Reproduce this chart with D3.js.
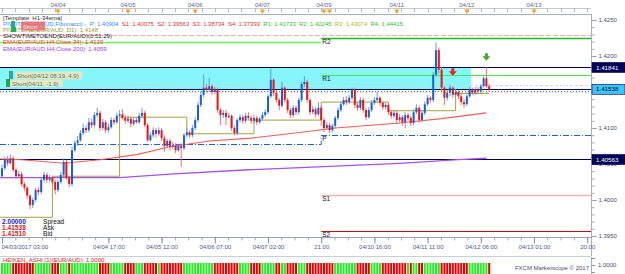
<!DOCTYPE html>
<html>
<head>
<meta charset="utf-8">
<script src="https://cdn.jsdelivr.net/npm/d3@7"></script>
<style>
body { margin: 0; background: #fff; }
svg { display: block; font-family: "Liberation Sans", Arial, sans-serif; }
</style>
</head>
<body>
<div id="chart"></div>
<script>
// EUR/AUD H1 candles, one per hour (open = previous close)
const firstOpen = 1.4033
const closes = [
  1.4044, 1.4056, 1.4051, 1.4058, 1.4042, 1.4033, 1.4036, 1.4022, 1.4017, 1.4006,
  1.3993, 1.4000, 1.4014, 1.4011, 1.4028, 1.4035, 1.4028, 1.4031, 1.4025, 1.4014,
  1.4025, 1.4035, 1.4053, 1.4031, 1.4022, 1.4069, 1.4079, 1.4083, 1.4093, 1.4100,
  1.4097, 1.4108, 1.4104, 1.4118, 1.4121, 1.4100, 1.4108, 1.4097, 1.4101, 1.4111,
  1.4108, 1.4117, 1.4119, 1.4114, 1.4110, 1.4113, 1.4106, 1.4111, 1.4108, 1.4117,
  1.4121, 1.4104, 1.4083, 1.4090, 1.4097, 1.4092, 1.4097, 1.4086, 1.4075, 1.4082,
  1.4074, 1.4076, 1.4069, 1.4075, 1.4072, 1.4090, 1.4094, 1.4090, 1.4100, 1.4111,
  1.4132, 1.4146, 1.4156, 1.4153, 1.4158, 1.4150, 1.4153, 1.4125, 1.4118, 1.4121,
  1.4115, 1.4117, 1.4100, 1.4093, 1.4111, 1.4115, 1.4110, 1.4117, 1.4114, 1.4110,
  1.4114, 1.4108, 1.4113, 1.4118, 1.4122, 1.4144, 1.4167, 1.4149, 1.4139, 1.4131,
  1.4156, 1.4139, 1.4125, 1.4118, 1.4128, 1.4122, 1.4139, 1.4161, 1.4164, 1.4139,
  1.4122, 1.4126, 1.4119, 1.4128, 1.4111, 1.4100, 1.4104, 1.4097, 1.4103, 1.4114,
  1.4125, 1.4133, 1.4139, 1.4136, 1.4142, 1.4153, 1.4132, 1.4128, 1.4139, 1.4125,
  1.4115, 1.4125, 1.4135, 1.4139, 1.4142, 1.4135, 1.4129, 1.4132, 1.4122, 1.4117,
  1.4121, 1.4111, 1.4115, 1.4108, 1.4118, 1.4114, 1.4107, 1.4122, 1.4128, 1.4111,
  1.4121, 1.4133, 1.4142, 1.4139, 1.4174, 1.4208, 1.4181, 1.4156, 1.4142, 1.4149,
  1.4156, 1.4146, 1.4150, 1.4144, 1.4136, 1.4133, 1.4144, 1.4153, 1.4149, 1.4154,
  1.4151, 1.4158, 1.4169, 1.4158, 1.4154
]
const highs = [
  1.4049, 1.4060, 1.4061, 1.4063, 1.4061, 1.4044, 1.4040, 1.4039, 1.4025, 1.4019,
  1.4008, 1.4003, 1.4017, 1.4018, 1.4031, 1.4039, 1.4038, 1.4035, 1.4033, 1.4028,
  1.4028, 1.4039, 1.4058, 1.4056, 1.4033, 1.4074, 1.4083, 1.4089, 1.4097, 1.4106,
  1.4104, 1.4114, 1.4113, 1.4122, 1.4128, 1.4124, 1.4113, 1.4111, 1.4106, 1.4115,
  1.4114, 1.4121, 1.4125, 1.4126, 1.4118, 1.4117, 1.4115, 1.4114, 1.4115, 1.4121,
  1.4128, 1.4124, 1.4107, 1.4094, 1.4101, 1.4100, 1.4101, 1.4100, 1.4090, 1.4085,
  1.4085, 1.4081, 1.4079, 1.4078, 1.4079, 1.4093, 1.4100, 1.4097, 1.4104, 1.4115,
  1.4136, 1.4151, 1.4174, 1.4161, 1.4169, 1.4161, 1.4157, 1.4156, 1.4128, 1.4125,
  1.4125, 1.4121, 1.4119, 1.4103, 1.4114, 1.4119, 1.4118, 1.4121, 1.4122, 1.4117,
  1.4118, 1.4117, 1.4115, 1.4122, 1.4126, 1.4147, 1.4183, 1.4169, 1.4153, 1.4142,
  1.4164, 1.4158, 1.4142, 1.4128, 1.4132, 1.4131, 1.4142, 1.4164, 1.4172, 1.4167,
  1.4142, 1.4131, 1.4129, 1.4136, 1.4131, 1.4114, 1.4108, 1.4107, 1.4106, 1.4117,
  1.4128, 1.4137, 1.4143, 1.4144, 1.4146, 1.4156, 1.4156, 1.4136, 1.4143, 1.4142,
  1.4128, 1.4129, 1.4139, 1.4143, 1.4150, 1.4144, 1.4137, 1.4135, 1.4135, 1.4125,
  1.4125, 1.4124, 1.4119, 1.4118, 1.4122, 1.4121, 1.4117, 1.4126, 1.4133, 1.4131,
  1.4125, 1.4137, 1.4146, 1.4144, 1.4178, 1.4219, 1.4212, 1.4185, 1.4158, 1.4153,
  1.4160, 1.4158, 1.4154, 1.4153, 1.4147, 1.4140, 1.4147, 1.4157, 1.4156, 1.4157,
  1.4157, 1.4161, 1.4172, 1.4185, 1.4161
]
const lows = [
  1.4031, 1.4042, 1.4047, 1.4049, 1.4039, 1.4029, 1.4031, 1.4019, 1.4012, 1.4001,
  1.3987, 1.3989, 1.3997, 1.4007, 1.4008, 1.4025, 1.4024, 1.4025, 1.4021, 1.4008,
  1.4011, 1.4022, 1.4032, 1.4028, 1.4018, 1.4019, 1.4067, 1.4075, 1.4081, 1.4090,
  1.4093, 1.4094, 1.4100, 1.4101, 1.4115, 1.4096, 1.4097, 1.4093, 1.4094, 1.4099,
  1.4104, 1.4106, 1.4114, 1.4111, 1.4106, 1.4107, 1.4101, 1.4103, 1.4106, 1.4106,
  1.4114, 1.4101, 1.4081, 1.4081, 1.4087, 1.4087, 1.4089, 1.4082, 1.4067, 1.4072,
  1.4069, 1.4071, 1.4065, 1.4067, 1.4046, 1.4069, 1.4087, 1.4086, 1.4087, 1.4097,
  1.4108, 1.4129, 1.4143, 1.4149, 1.4150, 1.4146, 1.4147, 1.4121, 1.4104, 1.4114,
  1.4104, 1.4113, 1.4096, 1.4090, 1.4090, 1.4108, 1.4106, 1.4107, 1.4110, 1.4106,
  1.4107, 1.4104, 1.4106, 1.4110, 1.4115, 1.4119, 1.4142, 1.4144, 1.4135, 1.4125,
  1.4128, 1.4135, 1.4121, 1.4114, 1.4115, 1.4118, 1.4119, 1.4136, 1.4157, 1.4135,
  1.4118, 1.4119, 1.4115, 1.4117, 1.4103, 1.4094, 1.4097, 1.4093, 1.4094, 1.4100,
  1.4111, 1.4122, 1.4131, 1.4132, 1.4133, 1.4139, 1.4128, 1.4124, 1.4125, 1.4121,
  1.4111, 1.4113, 1.4122, 1.4132, 1.4136, 1.4131, 1.4125, 1.4126, 1.4118, 1.4113,
  1.4114, 1.4107, 1.4108, 1.4103, 1.4100, 1.4110, 1.4103, 1.4104, 1.4119, 1.4107,
  1.4108, 1.4118, 1.4131, 1.4135, 1.4136, 1.4171, 1.4176, 1.4151, 1.4132, 1.4138,
  1.4144, 1.4142, 1.4143, 1.4140, 1.4132, 1.4128, 1.4131, 1.4142, 1.4146, 1.4146,
  1.4147, 1.4149, 1.4156, 1.4156, 1.4150
]

// EMA lines, read at a few candle positions
const ema34Idx = [-1, 7, 22, 35, 48, 60, 74, 89, 107, 119, 142, 157, 173]
const ema34 = [1.4057, 1.4056, 1.4051, 1.4056, 1.4063, 1.4074, 1.4082, 1.4086, 1.4094, 1.4100, 1.4107, 1.4113, 1.4121]
const ema200Idx = [-1, 42, 60, 88, 119, 142, 163, 173]
const ema200 = [1.4031, 1.4031, 1.4036, 1.4042, 1.4047, 1.4051, 1.4056, 1.4058]

// daily pivot line (step), start index of each day
const dayStart = [-1, 18, 42, 66, 90, 114, 138, 162]
const dayPivot = [1.3976, 1.4033, 1.4115, 1.4092, 1.4111, 1.4136, 1.4124, 1.4148]

// fibonacci pivots of the week, and of the week before
const pivotNames = ['R2', 'R1', 'P', 'S1', 'S2']
const pivotLevels = [1.42245, 1.41733, 1.40904, 1.40075, 1.39563]
const prevR2 = 1.42194
const prevP = 1.40778
const weekStart = 114

// other price levels
const orderHigh = 1.41841
const orderLow = 1.40563
const askPrice = 1.41538
const bidPrice = 1.41510
const stopLevel = 1.42292
const zoneEnd = 167.5

// axes
const priceTicks = [1.3950, 1.4000, 1.4050, 1.4100, 1.4150, 1.4200, 1.4250]
const timeTickIdx = [0, 38, 57, 76, 95, 114, 133, 152, 171, 190, 209]
const timeTickLabels = ['04/03/2017 03:00', '04/04 17:00', '04/05 12:00', '04/06 07:00', '04/07 02:00',
  '21:00', '04/10 16:00', '04/11 11:00', '04/12 06:00', '04/13 01:00', '20:00']
const eventIdx = [20, 45, 69, 93, 115, 141, 166, 190]
const eventLabels = ['04/04', '04/05', '04/06', '04/07', '04/09', '04/11', '04/12', '04/13']
const eventMarkers = [20, 45, 69, 93, 115, 117, 141, 166, 190]

const W = 625, H = 274
const plotRight = 591, plotTop = 15, plotBottom = 237.5

var candles = closes.map((c, i) => ({
  i: i,
  open: i ? closes[i - 1] : firstOpen,
  close: c,
  high: highs[i],
  low: lows[i]
}))

var svg = d3.select('#chart')
  .append('svg')
  .attr('width', W)
  .attr('height', H)

var x = d3.scaleLinear().domain([0, 209]).range([2, 587.2])
var y = d3.scaleLinear().domain([1.395, 1.425]).range([236, 20])

svg.append('clipPath').attr('id', 'plot')
  .append('rect').attr('x', 0).attr('y', plotTop).attr('width', plotRight).attr('height', plotBottom - plotTop)

var plot = svg.append('g').attr('clip-path', 'url(#plot)')

// short order zone
plot.append('rect')
  .attr('x', 0).attr('y', y(orderHigh))
  .attr('width', x(zoneEnd)).attr('height', y(askPrice) - y(orderHigh))
  .attr('fill', '#84f6fc')

function hline(p, x0, x1, color, width, dash) {
  plot.append('line')
    .attr('x1', x0).attr('x2', x1)
    .attr('y1', Math.round(y(p)) + 0.5).attr('y2', Math.round(y(p)) + 0.5)
    .attr('stroke', color).attr('stroke-width', width)
    .attr('stroke-dasharray', dash || null)
}

hline(stopLevel, 0, plotRight, '#ffa8a8', 1, '5,2')
hline(1.4160, 0, plotRight, '#cfe0c8', 1, '3,2')
hline(1.4150, 0, plotRight, '#d8e4d0', 1, '3,2')

// pivots
hline(prevR2, 0, x(weekStart), '#66ff55', 1.5)
hline(pivotLevels[0], x(weekStart), plotRight, '#19c019', 1.5)
hline(pivotLevels[1], x(weekStart), plotRight, '#4ee44e', 1.2)
hline(pivotLevels[3], x(weekStart), plotRight, '#ffb4b4', 1.6)
hline(pivotLevels[4], x(weekStart), plotRight, '#c81010', 1.2)

plot.append('path')
  .attr('d', `M0,${Math.round(y(prevP)) + 0.5}H${x(weekStart)}V${Math.round(y(pivotLevels[2])) + 0.5}H${plotRight}`)
  .attr('fill', 'none').attr('stroke', '#1a64e0').attr('stroke-width', 1)
  .attr('stroke-dasharray', '6,2,1,2')

hline(orderHigh, 0, plotRight, '#000050', 1.2)
hline(orderLow, 0, plotRight, '#000050', 1.2)
hline(askPrice, 0, plotRight, '#000060', 1.2)
hline(bidPrice, 0, plotRight, '#6070a0', 1, '1,2')

// daily pivot line
var stepPts = []
dayStart.forEach((s, k) => {
  var end = k < dayStart.length - 1 ? dayStart[k + 1] : 174
  stepPts.push([x(s), y(dayPivot[k])], [x(end), y(dayPivot[k])])
})
plot.append('path')
  .attr('d', d3.line()(stepPts))
  .attr('fill', 'none').attr('stroke', '#a8a040').attr('stroke-width', 1)

// EMAs
var line = d3.line().x(d => x(d[0])).y(d => y(d[1]))
plot.append('path')
  .attr('d', line(ema200Idx.map((d, k) => [d, ema200[k]])))
  .attr('fill', 'none').attr('stroke', '#a452f0').attr('stroke-width', 1.3)
plot.append('path')
  .attr('d', line(ema34Idx.map((d, k) => [d, ema34[k]])))
  .attr('fill', 'none').attr('stroke', '#ff5a5a').attr('stroke-width', 1.1)

// candles
var cg = plot.selectAll('.candle')
  .data(candles)
  .enter()
  .append('g')
  .attr('class', 'candle')

cg.append('line')
  .attr('x1', d => x(d.i)).attr('x2', d => x(d.i))
  .attr('y1', d => y(d.high)).attr('y2', d => y(d.low))
  .attr('stroke', d => d.close >= d.open ? '#5a8ee0' : '#f06060')
  .attr('stroke-width', 0.9)

cg.append('rect')
  .attr('x', d => x(d.i) - 1)
  .attr('width', 2)
  .attr('y', d => y(Math.max(d.open, d.close)))
  .attr('height', d => Math.max(1, Math.abs(y(d.open) - y(d.close))))
  .attr('fill', d => d.close >= d.open ? '#1c5fd0' : '#e81616')

// signal arrows
function arrow(i, p, color) {
  var ax = x(i), ay = y(p)
  plot.append('path')
    .attr('d', `M${ax - 1.5},${ay - 5}h3v3h2.5l-4,4.5l-4,-4.5h2.5z`)
    .attr('fill', color)
}
arrow(161, 1.4176, '#e02828')
arrow(173, 1.4197, '#4aa82a')

// pivot labels
pivotNames.forEach((n, k) => {
  svg.append('text')
    .attr('x', x(weekStart) + 1).attr('y', y(pivotLevels[k]) + 6)
    .attr('font-size', 6.5).attr('fill', '#111').text(n)
})

// order tags
svg.append('rect').attr('x', 9).attr('y', 71).attr('width', 4).attr('height', 8).attr('fill', '#32a89a')
svg.append('rect').attr('x', 15).attr('y', 71.5).attr('width', 67).attr('height', 8).attr('fill', '#dfe8c2')
svg.append('text').attr('x', 17).attr('y', 78).attr('font-size', 6).attr('fill', '#707070').text('Short(04/12 08:19, 4.9)')
svg.append('rect').attr('x', 6).attr('y', 79).attr('width', 4).attr('height', 8).attr('fill', '#1fa850')
svg.append('rect').attr('x', 10).attr('y', 80).attr('width', 53).attr('height', 7).attr('fill', '#e2ebc6')
svg.append('text').attr('x', 12).attr('y', 86).attr('font-size', 6).attr('fill', '#707070').text('Short(04/11, -1.9)')

// frame
svg.append('line').attr('x1', 0).attr('x2', plotRight).attr('y1', plotTop - 0.5).attr('y2', plotTop - 0.5).attr('stroke', '#a8b0c4')
svg.append('line').attr('x1', plotRight + 0.5).attr('x2', plotRight + 0.5).attr('y1', plotTop - 1).attr('y2', 256).attr('stroke', '#a8b0c4')

// top ruler with event dates
var minorIdx = d3.range(0, 210, 19 / 4)
svg.append('line').attr('x1', 0).attr('x2', plotRight).attr('y1', 8.5).attr('y2', 8.5).attr('stroke', '#c4c8d4')
svg.selectAll('.rtick').data(minorIdx).enter().append('line')
  .attr('x1', d => Math.round(x(d)) + 0.5).attr('x2', d => Math.round(x(d)) + 0.5)
  .attr('y1', 8.5).attr('y2', 12).attr('stroke', '#b0b4c4')
svg.selectAll('.ev').data(eventIdx).enter().append('text')
  .attr('x', d => x(d)).attr('y', 6.5)
  .attr('text-anchor', 'middle').attr('font-size', 6).attr('fill', '#5a6890')
  .text((d, k) => eventLabels[k])
svg.selectAll('.mk').data(eventMarkers).enter().append('path')
  .attr('d', d => `M${x(d) - 2.5},9.5h5l-2.5,4.5z`)
  .attr('fill', '#f5a020')

// price axis
var yAxis = svg.append('g').attr('transform', `translate(${plotRight + 0.5},0)`)
  .call(d3.axisRight(y).tickValues(priceTicks).tickFormat(d3.format('.4f')).tickSize(5).tickPadding(2))
var yMinor = svg.append('g').attr('transform', `translate(${plotRight + 0.5},0)`)
  .call(d3.axisRight(y).tickValues(d3.range(1.395, 1.4251, 0.001)).tickFormat('').tickSize(3))
svg.selectAll('.domain').remove()
yAxis.selectAll('line').attr('stroke', '#8890a8')
yMinor.selectAll('line').attr('stroke', '#a0a8bc')
yAxis.selectAll('text').attr('font-size', 6).attr('fill', '#4a4c70').attr('font-family', 'Liberation Sans')

// price tags on the axis
function priceTag(p, bg, fg) {
  var ty = y(p)
  svg.append('rect').attr('x', plotRight + 1).attr('y', ty - 5).attr('width', 33).attr('height', 10)
    .attr('fill', bg).attr('stroke', '#000050').attr('stroke-width', 0.6)
  svg.append('text').attr('x', plotRight + 5).attr('y', ty + 2.2).attr('font-size', 6.2)
    .attr('fill', fg).text(d3.format('.5f')(p))
}
priceTag(orderHigh, '#000058', '#ffffff')
priceTag(askPrice, '#3cc4f4', '#000040')
priceTag(orderLow, '#000058', '#ffffff')

// time axis
svg.append('line').attr('x1', 0).attr('x2', plotRight).attr('y1', plotBottom).attr('y2', plotBottom).attr('stroke', '#98a0b8')
var xMinor = svg.append('g').attr('transform', `translate(0,${plotBottom})`)
  .call(d3.axisBottom(x).tickValues(minorIdx).tickFormat('').tickSize(3))
var xAxis = svg.append('g').attr('transform', `translate(0,${plotBottom})`)
  .call(d3.axisBottom(x).tickValues(timeTickIdx).tickFormat((d, k) => timeTickLabels[k]).tickSize(6).tickPadding(1))
xMinor.select('.domain').remove()
xAxis.select('.domain').remove()
xMinor.selectAll('line').attr('stroke', '#a0a8bc')
xAxis.selectAll('line').attr('stroke', '#8890a8')
xAxis.selectAll('text').attr('font-size', 6).attr('fill', '#4a5890').attr('font-family', 'Liberation Sans')
xAxis.select('.tick text').attr('text-anchor', 'start').attr('dx', -1)

// indicator legend
var legend = [
  ['[Template: H1-34ema]', '#303030'],
  null,
  ['PIVOTLINE(EUR/AUD, D1): 1.4148', '#9c9630'],
  ['SHOWTIMETOEND(EUR/AUD)(0:51:29)', '#202020'],
  ['EMA(EUR/AUD,H4,Close,34): 1.4120', '#ff3030'],
  ['EMA(EUR/AUD,H4,Close,200): 1.4059', '#a040f0']
]
legend.forEach((d, k) => {
  if (!d) return
  svg.append('text').attr('x', 3).attr('y', 19.5 + k * 6.2).attr('font-size', 6).attr('fill', d[1]).text(d[0])
})
var pv = svg.append('text').attr('x', 3).attr('y', 25.7).attr('font-size', 6)
  .attr('textLength', 400).attr('lengthAdjust', 'spacingAndGlyphs').attr('xml:space', 'preserve')
pv.append('tspan').attr('fill', '#2f8cff').text('PIVOTS(EUR/AUD,Fibonacci) -  P: 1.40904  ')
pv.append('tspan').attr('fill', '#e03434').text('S1: 1.40075  S2: 1.39563  S3: 1.38734  S4: 1.37393  ')
pv.append('tspan').attr('fill', '#2cc42c').text('R1: 1.41733  R2: 1.42245  ')
pv.append('tspan').attr('fill', '#b4b420').text('R3: 1.43074  ')
pv.append('tspan').attr('fill', '#2cc42c').text('R4: 1.44415')

// trade tag over the legend
svg.append('rect').attr('x', 11).attr('y', 21).attr('width', 4).attr('height', 6).attr('fill', '#2aa896')
svg.append('rect').attr('x', 11).attr('y', 27).attr('width', 5).attr('height', 5).attr('fill', '#24b058')
svg.append('rect').attr('x', 21).attr('y', 21.5).attr('width', 24).attr('height', 9).attr('fill', '#e86a6a').attr('opacity', 0.85)
svg.append('text').attr('x', 23).attr('y', 28.5).attr('font-size', 6).attr('fill', '#f8e0e0').text('Short')

// spread / ask / bid
var info = [['2.00000', '#2020c8', 'Spread'], ['1.41538', '#e02020', 'Ask'], ['1.41510', '#e02020', 'Bid']]
info.forEach((d, k) => {
  svg.append('text').attr('x', 2).attr('y', 224 + k * 6).attr('font-size', 6.6).attr('font-weight', 'bold').attr('fill', d[1]).text(d[0])
  svg.append('text').attr('x', 43).attr('y', 224 + k * 6).attr('font-size', 6.6).attr('fill', '#111').text(d[2])
})

// heiken ashi panel
var haOpen = [], haClose = []
candles.forEach((d, i) => {
  var hc = (d.open + d.high + d.low + d.close) / 4
  var ho = i ? (haOpen[i - 1] + haClose[i - 1]) / 2 : (d.open + d.close) / 2
  haOpen.push(ho)
  haClose.push(hc)
})
svg.append('line').attr('x1', 0).attr('x2', plotRight).attr('y1', 256.5).attr('y2', 256.5).attr('stroke', '#c8cedc')
svg.append('text').attr('x', 3).attr('y', 261.5).attr('font-size', 6).attr('fill', '#e02020').text('HEIKEN_ASHI (1)(EUR/AUD): 1.0000')
svg.selectAll('.ha').data(candles).enter().append('rect')
  .attr('x', d => x(d.i) - 1).attr('width', 2)
  .attr('y', 263).attr('height', 11)
  .attr('fill', d => haClose[d.i] >= haOpen[d.i] ? '#22ee22' : '#e80000')
svg.append('line').attr('x1', plotRight + 0.5).attr('x2', plotRight + 0.5).attr('y1', 257).attr('y2', 274).attr('stroke', '#a8b0c4')
;[258, 265, 272].forEach(t => {
  svg.append('line').attr('x1', plotRight + 0.5).attr('x2', plotRight + 4).attr('y1', t + 0.5).attr('y2', t + 0.5).attr('stroke', '#8890a8')
})
svg.append('text').attr('x', 598).attr('y', 267).attr('font-size', 6).attr('fill', '#4a4c70').text('1.0000')
svg.append('text').attr('x', 589).attr('y', 270).attr('text-anchor', 'end').attr('font-size', 6).attr('fill', '#505060').text('FXCM Marketscope © 2017')
</script>
</body>
</html>
